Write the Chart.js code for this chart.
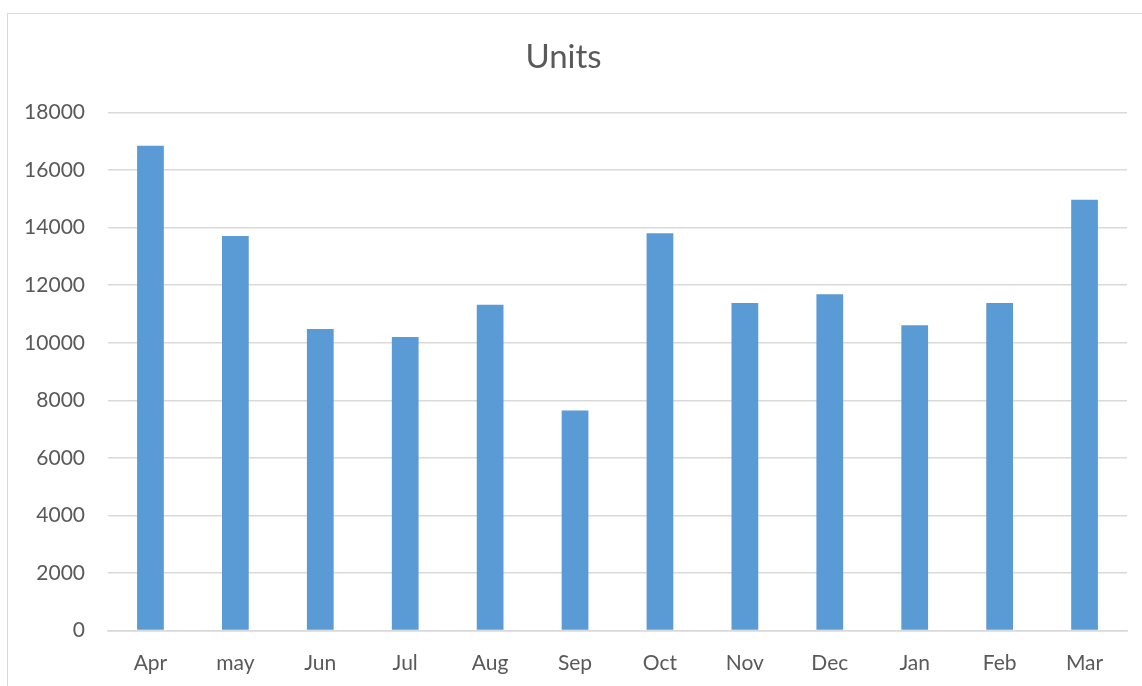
<!DOCTYPE html>
<html>
<head>
<meta charset="utf-8">
<script src="https://cdn.jsdelivr.net/npm/chart.js@4"></script>
<style>
  html, body { margin: 0; padding: 0; background: #fff; }
  #wrap { position: relative; width: 1142px; height: 686px; overflow: hidden; }
  #frame { position: absolute; left: 7px; top: 13px; width: 1200px; height: 700px; border: 1.5px solid #d9d9d9; box-sizing: border-box; }
  #chart { position: absolute; left: 0; top: 0; }
</style>
</head>
<body>
<div id="wrap">
  <div id="frame"></div>
  <canvas id="chart" width="1142" height="686"></canvas>
</div>
<script>
const months = ['Apr', 'may', 'Jun', 'Jul', 'Aug', 'Sep', 'Oct', 'Nov', 'Dec', 'Jan', 'Feb', 'Mar'];
const units = [16850, 13710, 10480, 10200, 11320, 7650, 13810, 11380, 11690, 10610, 11380, 14970];
const yTicks = [0, 2000, 4000, 6000, 8000, 10000, 12000, 14000, 16000, 18000];

const ctx = document.getElementById('chart');
const grey = '#595959';

new Chart(ctx, {
  type: 'bar',
  data: {
    labels: months,
    datasets: [{
      label: 'Units',
      data: units,
      backgroundColor: '#5b9bd5',
      borderWidth: 0,
      categoryPercentage: 1,
      barPercentage: 0.315
    }]
  },
  options: {
    responsive: false,
    animation: false,
    layout: { padding: { left: 0, right: 15, top: 0, bottom: 0 } },
    plugins: {
      legend: { display: false },
      tooltip: { enabled: false },
      title: {
        display: true,
        text: 'Units',
        color: grey,
        font: { family: 'Lato', size: 33, weight: 'normal' },
        padding: { top: 38, bottom: 35 }
      }
    },
    scales: {
      x: {
        afterFit: (scale) => { scale.height = 55.5; },
        grid: { display: false, drawTicks: false },
        border: { display: true, color: '#d9d9d9', width: 1.5 },
        ticks: { color: grey, font: { family: 'Lato', size: 21 }, padding: 20, maxRotation: 0 }
      },
      y: {
        min: 0,
        max: 18000,
        afterFit: (scale) => { scale.width = 108; },
        afterBuildTicks: (scale) => { scale.ticks = yTicks.map(v => ({ value: v })); },
        grid: { color: '#d9d9d9', lineWidth: 1.5, drawTicks: false },
        border: { display: false },
        ticks: { color: grey, font: { family: 'Lato', size: 21 }, padding: 23, callback: (v) => String(v) }
      }
    }
  }
});
</script>
</body>
</html>
